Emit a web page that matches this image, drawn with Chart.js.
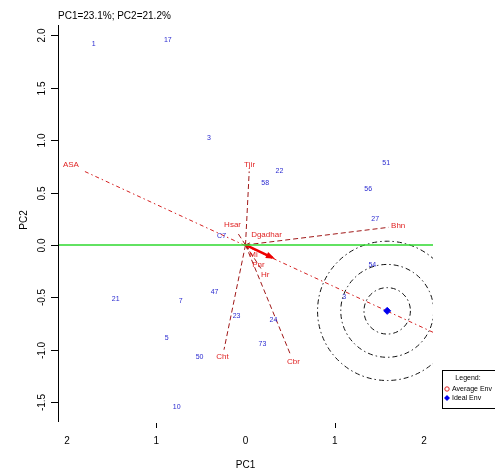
<!DOCTYPE html>
<html>
<head>
<meta charset="utf-8">
<script src="https://cdn.jsdelivr.net/npm/chart.js@4/dist/chart.umd.min.js"></script>
<style>
    html, body { margin: 0; padding: 0; background: #ffffff; }
</style>
</head>
<body>
<canvas id="grafico" width="495" height="470"></canvas>
<script>
// Genotipos (etiquetas azules)
const genotipos = ['1', '17', '3', '22', '58', '51', '56', '27', 'C7', '54', '3', '21', '7', '47', '23', '24', '73', '5', '50', '10'];
const genotiposPC1 = [-1.70, -0.87, -0.41, 0.38, 0.22, 1.575, 1.374, 1.453, -0.268, 1.42, 1.106, -1.453, -0.726, -0.346, -0.10, 0.313, 0.19, -0.883, -0.514, -0.771];
const genotiposPC2 = [1.914, 1.952, 1.019, 0.705, 0.59, 0.781, 0.533, 0.248, 0.086, -0.19, -0.495, -0.514, -0.533, -0.448, -0.676, -0.714, -0.943, -0.886, -1.067, -1.552];

// Ambientes (vectores rojos)
const ambientes = ['ASA', 'Tjir', 'Bhn', 'Hsar', 'Dgadhar', 'Mi', 'Pnr', 'Hr', 'Cht', 'Cbr'];
const ambientesPC1 = [-1.955, 0.045, 1.71, -0.145, 0.235, 0.09, 0.145, 0.22, -0.257, 0.536];
const ambientesPC2 = [0.762, 0.762, 0.18, 0.19, 0.095, -0.095, -0.19, -0.286, -1.067, -1.114];

// Ambiente promedio e ideal
const ambientePromedio = [0.30, -0.12];
const ambienteIdeal = [1.587, -0.629];
const radiosCirculos = [0.26, 0.52, 0.78];

// Ejes
const ticksX = [-2, -1, 0, 1, 2];
const etiquetasX = ['2', '1', '0', '1', '2'];
const marcasX = [-1, 1];
const ticksY = [2.0, 1.5, 1.0, 0.5, 0.0, -0.5, -1.0, -1.5];
const etiquetasY = ['2.0', '1.5', '1.0', '0.5', '0.0', '-0.5', '-1.0', '-1.5'];

const fuente = '"Liberation Sans", Arial, sans-serif';

// Dibuja circulos, vectores, etiquetas, ejes y leyenda
const pluginBiplot = {
    id: 'biplot',
    beforeDatasetsDraw(chart) {
        const ctx = chart.ctx;
        const x = chart.scales.x, y = chart.scales.y;
        const area = chart.chartArea;
        const ox = x.getPixelForValue(0), oy = y.getPixelForValue(0);

        ctx.save();
        ctx.beginPath();
        ctx.rect(area.left, area.top, area.right - area.left, area.bottom - area.top);
        ctx.clip();

        // circulos concentricos alrededor del ideal
        const cx = x.getPixelForValue(ambienteIdeal[0]);
        const cy = y.getPixelForValue(ambienteIdeal[1]);
        const unidad = x.getPixelForValue(1) - ox;
        ctx.strokeStyle = '#111111';
        ctx.lineWidth = 1;
        ctx.setLineDash([5, 3, 1.5, 3]);
        radiosCirculos.forEach(r => {
            ctx.beginPath();
            ctx.arc(cx, cy, r * unidad, 0, Math.PI * 2);
            ctx.stroke();
        });

        // vectores de ambientes
        ctx.font = '8px ' + fuente;
        ambientes.forEach((nombre, i) => {
            if (i === 0) return;
            const px = x.getPixelForValue(ambientesPC1[i]);
            const py = y.getPixelForValue(ambientesPC2[i]);
            const dx = px - ox, dy = py - oy;
            const largo = Math.hypot(dx, dy);
            const w = ctx.measureText(nombre).width;
            const hueco = Math.abs(dx / largo) * w / 2 + Math.abs(dy / largo) * 4 + 2;
            const f = Math.max(0, (largo - hueco) / largo);
            ctx.strokeStyle = '#a01818';
            ctx.setLineDash([5, 3]);
            ctx.beginPath();
            ctx.moveTo(ox, oy);
            ctx.lineTo(ox + dx * f, oy + dy * f);
            ctx.stroke();
        });

        // eje del ambiente promedio (pasa por ASA y el ideal)
        const ax = x.getPixelForValue(ambientesPC1[0]);
        const ay = y.getPixelForValue(ambientesPC2[0]);
        const ix = x.getPixelForValue(ambienteIdeal[0] * 1.6);
        const iy = y.getPixelForValue(ambienteIdeal[1] * 1.6);
        ctx.strokeStyle = '#d42020';
        ctx.setLineDash([4, 3, 1.5, 3]);
        ctx.beginPath();
        ctx.moveTo(ax + (ox - ax) * 0.08, ay + (oy - ay) * 0.08);
        ctx.lineTo(ix, iy);
        ctx.stroke();

        // flecha del ambiente promedio
        const fx = x.getPixelForValue(ambientePromedio[0]);
        const fy = y.getPixelForValue(ambientePromedio[1]);
        const ang = Math.atan2(fy - oy, fx - ox);
        ctx.setLineDash([]);
        ctx.strokeStyle = '#ee0000';
        ctx.fillStyle = '#ee0000';
        ctx.lineWidth = 2.5;
        ctx.beginPath();
        ctx.moveTo(ox, oy);
        ctx.lineTo(fx, fy);
        ctx.stroke();
        ctx.beginPath();
        ctx.moveTo(fx + 3 * Math.cos(ang), fy + 3 * Math.sin(ang));
        ctx.lineTo(fx - 7 * Math.cos(ang - 0.5), fy - 7 * Math.sin(ang - 0.5));
        ctx.lineTo(fx - 7 * Math.cos(ang + 0.5), fy - 7 * Math.sin(ang + 0.5));
        ctx.closePath();
        ctx.fill();
        ctx.restore();
    },
    afterDatasetsDraw(chart) {
        const ctx = chart.ctx;
        const x = chart.scales.x, y = chart.scales.y;
        ctx.save();
        ctx.textAlign = 'center';
        ctx.textBaseline = 'middle';

        // etiquetas de genotipos
        ctx.font = '7px ' + fuente;
        ctx.fillStyle = '#2a2ad0';
        chart.getDatasetMeta(1).data.forEach((p, i) => {
            ctx.fillText(genotipos[i], p.x, p.y);
        });

        // etiquetas de ambientes
        ctx.font = '8px ' + fuente;
        ctx.fillStyle = '#e02424';
        chart.getDatasetMeta(2).data.forEach((p, i) => {
            ctx.fillText(ambientes[i], p.x, p.y);
        });
        ctx.restore();
    },
    afterDraw(chart) {
        const ctx = chart.ctx;
        const x = chart.scales.x, y = chart.scales.y;
        const area = chart.chartArea;
        ctx.save();
        ctx.strokeStyle = '#000000';
        ctx.fillStyle = '#000000';
        ctx.lineWidth = 1;

        // eje Y
        ctx.beginPath();
        ctx.moveTo(area.left + 0.5, area.top);
        ctx.lineTo(area.left + 0.5, area.bottom);
        ctx.stroke();
        ctx.font = '10px ' + fuente;
        ctx.textAlign = 'center';
        ctx.textBaseline = 'middle';
        ticksY.forEach((v, i) => {
            const py = Math.round(y.getPixelForValue(v)) + 0.5;
            ctx.beginPath();
            ctx.moveTo(area.left - 7, py);
            ctx.lineTo(area.left, py);
            ctx.stroke();
            ctx.save();
            ctx.translate(area.left - 16, py);
            ctx.rotate(-Math.PI / 2);
            ctx.fillText(etiquetasY[i], 0, 0);
            ctx.restore();
        });

        // eje X
        marcasX.forEach(v => {
            const px = Math.round(x.getPixelForValue(v)) + 0.5;
            ctx.beginPath();
            ctx.moveTo(px, area.bottom + 1);
            ctx.lineTo(px, area.bottom + 6);
            ctx.stroke();
        });
        ticksX.forEach((v, i) => {
            ctx.fillText(etiquetasX[i], x.getPixelForValue(v), area.bottom + 19);
        });

        // titulos
        ctx.font = '10px ' + fuente;
        ctx.fillText('PC1', x.getPixelForValue(0), 465);
        ctx.save();
        ctx.translate(24, 220);
        ctx.rotate(-Math.PI / 2);
        ctx.fillText('PC2', 0, 0);
        ctx.restore();
        ctx.textAlign = 'left';
        ctx.fillText('PC1=23.1%; PC2=21.2%', area.left, 16);

        // leyenda
        ctx.lineWidth = 1;
        ctx.strokeRect(442.5, 370.5, 60, 38);
        ctx.font = '7px ' + fuente;
        ctx.textAlign = 'center';
        ctx.fillText('Legend:', 468, 378);
        ctx.textAlign = 'left';
        ctx.fillText('Average Env', 452, 389);
        ctx.fillText('Ideal Env', 452, 398);
        ctx.strokeStyle = '#e02424';
        ctx.beginPath();
        ctx.arc(447, 389, 2.2, 0, Math.PI * 2);
        ctx.stroke();
        ctx.fillStyle = '#0000ee';
        ctx.beginPath();
        ctx.moveTo(447, 395);
        ctx.lineTo(450, 398);
        ctx.lineTo(447, 401);
        ctx.lineTo(444, 398);
        ctx.closePath();
        ctx.fill();
        ctx.restore();
    }
};

function generarGrafico() {
    const ctx = document.getElementById('grafico').getContext('2d');

    const puntosGenotipos = genotipos.map((g, i) => ({ x: genotiposPC1[i], y: genotiposPC2[i] }));
    const puntosAmbientes = ambientes.map((a, i) => ({ x: ambientesPC1[i], y: ambientesPC2[i] }));

    return new Chart(ctx, {
        type: 'scatter',
        data: {
            datasets: [
                {
                    // linea horizontal verde en PC2 = 0
                    type: 'line',
                    data: [{ x: -2.1, y: 0 }, { x: 2.1, y: 0 }],
                    borderColor: '#2ed82e',
                    borderWidth: 1.6,
                    pointRadius: 0
                },
                {
                    data: puntosGenotipos,
                    pointRadius: 0
                },
                {
                    data: puntosAmbientes,
                    pointRadius: 0
                },
                {
                    data: [{ x: ambienteIdeal[0], y: ambienteIdeal[1] }],
                    pointStyle: 'rectRot',
                    pointRadius: 3.5,
                    backgroundColor: '#0000ee',
                    borderColor: '#0000ee'
                }
            ]
        },
        options: {
            responsive: false,
            devicePixelRatio: 1,
            animation: false,
            layout: { padding: { left: 58, top: 25, right: 62, bottom: 48 } },
            scales: {
                x: { type: 'linear', min: -2.1, max: 2.1, display: false },
                y: { type: 'linear', min: -1.69, max: 2.1, display: false }
            },
            plugins: {
                legend: { display: false },
                tooltip: { enabled: false }
            }
        },
        plugins: [pluginBiplot]
    });
}

const grafico = generarGrafico();
</script>
</body>
</html>
